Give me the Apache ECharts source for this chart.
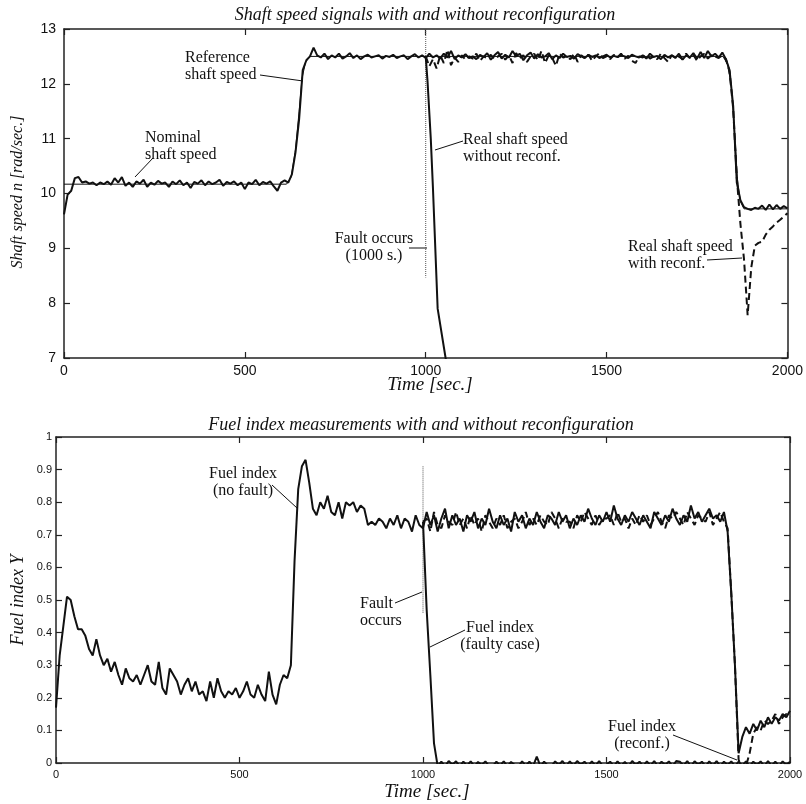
<!DOCTYPE html>
<html>
<head>
<meta charset="UTF-8">
<title>Shaft speed and fuel index</title>
<script type="text/javascript" src="https://cdn.jsdelivr.net/npm/echarts@6.0.0/dist/echarts.min.js"></script>
<style>body{margin:0;background:#fff}</style>
</head>
<body>
<div id="main" style="width:806px;height:804px;"></div>
<script type="text/javascript">
// time grid, 10 s sampling
var t = [];
for (var s = 0; s <= 2000; s += 10) t.push(s);
var tAfter = t.slice(100); // 1000 .. 2000

// ---- shaft speed (top panel) ----
var nomSpeed = [
  9.62, 9.98, 10.05, 10.28, 10.30, 10.20, 10.22, 10.18, 10.20, 10.15,
  10.20, 10.17, 10.22, 10.16, 10.28, 10.20, 10.30, 10.14, 10.20, 10.12,
  10.22, 10.18, 10.25, 10.12, 10.20, 10.16, 10.23, 10.18, 10.20, 10.12,
  10.22, 10.17, 10.24, 10.15, 10.20, 10.10, 10.21, 10.18, 10.24, 10.15,
  10.22, 10.17, 10.20, 10.25, 10.14, 10.21, 10.18, 10.22, 10.15, 10.20,
  10.08, 10.20, 10.17, 10.25, 10.15, 10.21, 10.18, 10.22, 10.13, 10.05,
  10.20, 10.24, 10.20, 10.35, 10.75, 11.35, 12.25, 12.43, 12.50, 12.66,
  12.52, 12.48, 12.55, 12.45, 12.52, 12.48, 12.55, 12.46, 12.50, 12.56,
  12.47, 12.52, 12.45, 12.50, 12.53, 12.48, 12.50, 12.52, 12.46, 12.51,
  12.49, 12.53, 12.47, 12.50, 12.52, 12.45, 12.50, 12.54, 12.48, 12.52,
  12.47, 12.55, 12.48, 12.52, 12.46, 12.55, 12.48, 12.60, 12.45, 12.52,
  12.48, 12.54, 12.47, 12.50, 12.45, 12.53, 12.49, 12.56, 12.44, 12.52,
  12.58, 12.46, 12.53, 12.48, 12.60, 12.50, 12.55, 12.43, 12.52, 12.57,
  12.46, 12.54, 12.48, 12.50, 12.56, 12.45, 12.52, 12.47, 12.55, 12.49,
  12.51, 12.46, 12.54, 12.50, 12.47, 12.53, 12.49, 12.52, 12.47, 12.50,
  12.53, 12.48, 12.51, 12.49, 12.52, 12.50, 12.47, 12.53, 12.50, 12.48,
  12.52, 12.46, 12.55, 12.49, 12.51, 12.45, 12.53, 12.48, 12.52, 12.47,
  12.55, 12.44, 12.52, 12.48, 12.56, 12.46, 12.58, 12.47, 12.60, 12.50,
  12.55, 12.48, 12.57, 12.45, 12.25, 11.60, 10.20, 9.88, 9.75, 9.72,
  9.70, 9.74, 9.72, 9.78, 9.70, 9.80, 9.71, 9.79, 9.72, 9.77,
  9.73
];
var recSpeed = [
  12.50, 12.32, 12.45, 12.28, 12.52, 12.38, 12.62, 12.34, 12.48, 12.40,
  12.52, 12.44, 12.50, 12.46, 12.55, 12.42, 12.50, 12.47, 12.53, 12.45,
  12.50, 12.55, 12.44, 12.52, 12.38, 12.56, 12.47, 12.52, 12.40, 12.50,
  12.55, 12.43, 12.60, 12.38, 12.52, 12.47, 12.33, 12.55, 12.48, 12.50,
  12.45, 12.55, 12.40, 12.52, 12.47, 12.53, 12.42, 12.50, 12.56, 12.47,
  12.50, 12.45, 12.53, 12.48, 12.55, 12.46, 12.51, 12.42, 12.38, 12.50,
  12.48, 12.53, 12.46, 12.50, 12.45, 12.55, 12.47, 12.40, 12.52, 12.48,
  12.50, 12.45, 12.55, 12.47, 12.53, 12.42, 12.50, 12.55, 12.46, 12.52,
  12.50, 12.47, 12.52, 12.45, 12.22, 11.55, 10.30, 9.45, 8.80, 7.78,
  8.65, 9.05, 9.10, 9.12, 9.25, 9.34, 9.40, 9.47, 9.52, 9.58,
  9.64
];
var refT = [0, 615, 628, 640, 650, 658, 668, 680, 1822, 1835, 1845, 1855, 1862, 1870, 1880, 2000];
var refSpeed = [10.17, 10.17, 10.30, 10.80, 11.50, 12.10, 12.40, 12.50, 12.50, 12.35, 11.95, 11.00, 10.25, 9.85, 9.72, 9.72];
var faultT = [1000, 1005, 1014, 1020, 1033, 1055, 1062];
var faultSpeed = [12.50, 12.05, 11.00, 10.10, 7.90, 7.00, 6.80];
var markSpeed = [13, 8.47];

// ---- fuel index (bottom panel) ----
var fuelNom = [
  0.17, 0.33, 0.42, 0.51, 0.50, 0.45, 0.41, 0.41, 0.39, 0.35,
  0.33, 0.38, 0.33, 0.30, 0.32, 0.28, 0.31, 0.27, 0.24, 0.29,
  0.26, 0.25, 0.27, 0.24, 0.27, 0.30, 0.25, 0.24, 0.31, 0.23,
  0.21, 0.29, 0.27, 0.25, 0.21, 0.24, 0.26, 0.22, 0.25, 0.21,
  0.22, 0.19, 0.25, 0.20, 0.26, 0.22, 0.20, 0.22, 0.21, 0.23,
  0.20, 0.22, 0.25, 0.21, 0.20, 0.24, 0.21, 0.19, 0.28, 0.21,
  0.18, 0.24, 0.27, 0.26, 0.30, 0.62, 0.84, 0.91, 0.93, 0.86,
  0.78, 0.76, 0.80, 0.78, 0.82, 0.77, 0.76, 0.80, 0.75, 0.80,
  0.79, 0.80, 0.77, 0.79, 0.78, 0.73, 0.74, 0.73, 0.75, 0.74,
  0.72, 0.75, 0.73, 0.76, 0.72, 0.75, 0.74, 0.71, 0.76, 0.73,
  0.72, 0.77, 0.73, 0.76, 0.71, 0.75, 0.78, 0.72, 0.76, 0.73,
  0.75, 0.71, 0.76, 0.74, 0.77, 0.72, 0.75, 0.73, 0.78, 0.74,
  0.72, 0.76, 0.73, 0.75, 0.71, 0.77, 0.74, 0.76, 0.72, 0.75,
  0.73, 0.77, 0.74, 0.72, 0.76, 0.75, 0.73, 0.77, 0.74, 0.76,
  0.72, 0.75, 0.73, 0.76, 0.74, 0.78, 0.75, 0.73, 0.76, 0.74,
  0.77, 0.74, 0.79, 0.75, 0.73, 0.76, 0.74, 0.77, 0.75, 0.73,
  0.76, 0.74, 0.72, 0.77, 0.75, 0.73, 0.76, 0.74, 0.78, 0.75,
  0.73, 0.76, 0.74, 0.79, 0.75, 0.77, 0.74, 0.76, 0.78, 0.75,
  0.76, 0.74, 0.77, 0.71, 0.52, 0.30, 0.03, 0.08, 0.11, 0.09,
  0.12, 0.10, 0.13, 0.11, 0.14, 0.12, 0.14, 0.13, 0.15, 0.14,
  0.16
];
var fuelRec = [
  0.74, 0.75, 0.71, 0.77, 0.73, 0.72, 0.76, 0.74, 0.73, 0.77,
  0.73, 0.75, 0.72, 0.76, 0.73, 0.75, 0.71, 0.76, 0.74, 0.72,
  0.75, 0.73, 0.76, 0.72, 0.74, 0.75, 0.72, 0.74, 0.77, 0.73,
  0.75, 0.73, 0.76, 0.74, 0.73, 0.77, 0.75, 0.72, 0.75, 0.74,
  0.74, 0.72, 0.76, 0.74, 0.77, 0.75, 0.73, 0.76, 0.73, 0.75,
  0.75, 0.76, 0.73, 0.77, 0.74, 0.75, 0.72, 0.75, 0.73, 0.76,
  0.74, 0.76, 0.73, 0.75, 0.77, 0.74, 0.72, 0.76, 0.75, 0.77,
  0.75, 0.73, 0.77, 0.75, 0.73, 0.76, 0.75, 0.74, 0.77, 0.73,
  0.75, 0.77, 0.74, 0.72, 0.52, 0.30, 0.01, -0.02, -0.01, 0.03,
  0.09, 0.11, 0.10, 0.13, 0.12, 0.13, 0.15, 0.12, 0.14, 0.15,
  0.14
];
var fuelFault = [
  0.74, 0.47, 0.27, 0.06, -0.01, 0.004, -0.01, 0.006, -0.005, 0.005,
  -0.01, 0.004, -0.008, 0.005, -0.01, 0.003, -0.006, 0.005, -0.01, -0.01,
  0.004, -0.008, 0.005, -0.01, 0.003, -0.006, -0.01, 0.005, -0.008, 0.004,
  -0.01, 0.02, -0.01, 0.004, -0.008, -0.01, 0.005, -0.006, 0.006, -0.01,
  0.005, -0.008, 0.006, -0.005, 0.004, -0.01, 0.005, -0.008, 0.006, -0.01,
  -0.005, 0.004, -0.01, 0.005, -0.008, 0.003, -0.01, 0.006, -0.006, 0.004,
  -0.01, 0.005, -0.008, 0.006, -0.01, 0.004, -0.006, 0.005, -0.01, 0.006,
  0.004, -0.008, 0.006, -0.01, 0.005, -0.005, 0.004, -0.01, 0.005, -0.008,
  0.006, -0.01, 0.004, -0.006, 0.005, -0.01, 0.004, -0.008, 0.005, -0.01,
  0.004, -0.006, 0.005, -0.01, 0.006, -0.008, 0.004, -0.01, 0.005, -0.006,
  0.004
];
var markFuel = [0.91, 0.46];

function pairs(xs, ys) {
  return xs.map(function (x, i) { return [x, ys[i]]; });
}

var serif = 'Liberation Serif';
var sans = 'Liberation Sans';
var ink = '#111';
var frame = { show: true, onZero: false, lineStyle: { color: '#222', width: 1.5 } };
var plain = function (v) { return String(v); };

function tick(show) {
  return { show: show, inside: true, length: 6, lineStyle: { color: '#222', width: 1.2 } };
}

function lineSeries(x, y, data, width, type, color) {
  return {
    type: 'line', xAxisIndex: x, yAxisIndex: y, data: data,
    showSymbol: false, symbol: 'none', animation: false, silent: true,
    lineStyle: { color: color || ink, width: width, type: type || 'solid' }
  };
}

var chart = echarts.init(document.getElementById('main'), null, { renderer: 'canvas' });

var titleStyle = { fontFamily: serif, fontStyle: 'italic', fontWeight: 'normal', fontSize: 18, color: ink };

var option = {
  animation: false,
  backgroundColor: '#fff',
  title: [
    { text: 'Shaft speed signals with and without reconfiguration', left: 420, top: 1, textAlign: 'center', textStyle: titleStyle },
    { text: 'Fuel index measurements with and without reconfiguration', left: 416, top: 411, textAlign: 'center', textStyle: titleStyle }
  ],
  grid: [
    { left: 64, right: 14, top: 29, height: 329 },
    { left: 56, right: 16, top: 437, height: 326 }
  ],
  xAxis: [
    { type: 'value', gridIndex: 0, min: 0, max: 2000, interval: 500, position: 'bottom',
      axisLine: frame, axisTick: tick(true), splitLine: { show: false },
      axisLabel: { fontFamily: sans, fontSize: 14, color: ink, margin: 6, formatter: plain } },
    { type: 'value', gridIndex: 0, min: 0, max: 2000, interval: 500, position: 'top',
      axisLine: frame, axisTick: tick(true), axisLabel: { show: false }, splitLine: { show: false } },
    { type: 'value', gridIndex: 1, min: 0, max: 2000, interval: 500, position: 'bottom',
      axisLine: frame, axisTick: tick(true), splitLine: { show: false },
      axisLabel: { fontFamily: sans, fontSize: 11, color: ink, margin: 6, formatter: plain } },
    { type: 'value', gridIndex: 1, min: 0, max: 2000, interval: 500, position: 'top',
      axisLine: frame, axisTick: tick(true), axisLabel: { show: false }, splitLine: { show: false } }
  ],
  yAxis: [
    { type: 'value', gridIndex: 0, min: 7, max: 13, interval: 1, position: 'left',
      axisLine: frame, axisTick: tick(true), splitLine: { show: false },
      axisLabel: { fontFamily: sans, fontSize: 14, color: ink, margin: 8 } },
    { type: 'value', gridIndex: 0, min: 7, max: 13, interval: 1, position: 'right',
      axisLine: frame, axisTick: tick(true), axisLabel: { show: false }, splitLine: { show: false } },
    { type: 'value', gridIndex: 1, min: 0, max: 1, interval: 0.1, position: 'left',
      axisLine: frame, axisTick: tick(true), splitLine: { show: false },
      axisLabel: { fontFamily: sans, fontSize: 11, color: ink, margin: 4 } },
    { type: 'value', gridIndex: 1, min: 0, max: 1, interval: 0.1, position: 'right',
      axisLine: frame, axisTick: tick(true), axisLabel: { show: false }, splitLine: { show: false } }
  ],
  series: [
    lineSeries(0, 0, pairs([1000, 1000], markSpeed), 1, 'dotted', '#555'),
    lineSeries(0, 0, pairs(refT, refSpeed), 1),
    lineSeries(0, 0, pairs(t, nomSpeed), 2),
    lineSeries(0, 0, pairs(faultT, faultSpeed), 2),
    lineSeries(0, 0, pairs(tAfter, recSpeed), 2, [7, 4]),
    lineSeries(2, 2, pairs([1000, 1000], markFuel), 1, 'dotted', '#555'),
    lineSeries(2, 2, pairs(t, fuelNom), 2),
    lineSeries(2, 2, pairs(tAfter, fuelFault), 2),
    lineSeries(2, 2, pairs(tAfter, fuelRec), 2, [7, 4])
  ]
};

// axis names (italic serif)
var axisNames = [
  { text: 'Time [sec.]', x: 430, y: 385, rot: 0, size: 19 },
  { text: 'Time [sec.]', x: 427, y: 792, rot: 0, size: 19 },
  { text: 'Shaft speed n [rad/sec.]', x: 18, y: 192, rot: Math.PI / 2, size: 16 },
  { text: 'Fuel index Y', x: 18, y: 600, rot: Math.PI / 2, size: 18 }
];

// annotations: label text and leader lines (pixel layout)
var notes = [
  { text: 'Reference\nshaft speed', x: 185, y: 66, align: 'left', from: [260, 75], to: [303, 81] },
  { text: 'Nominal\nshaft speed', x: 145, y: 146, align: 'left', from: [153, 158], to: [135, 177] },
  { text: 'Real shaft speed\nwithout reconf.', x: 463, y: 148, align: 'left', from: [463, 141], to: [435, 150] },
  { text: 'Fault occurs\n(1000 s.)', x: 374, y: 247, align: 'center', from: [409, 248], to: [427, 248] },
  { text: 'Real shaft speed\nwith reconf.', x: 628, y: 255, align: 'left', from: [707, 260], to: [742, 258] },
  { text: 'Fuel index\n(no fault)', x: 243, y: 482, align: 'center', from: [272, 485], to: [297, 508] },
  { text: 'Fault\noccurs', x: 360, y: 612, align: 'left', from: [395, 603], to: [422, 592] },
  { text: 'Fuel index\n(faulty case)', x: 500, y: 636, align: 'center', from: [465, 630], to: [430, 647] },
  { text: 'Fuel index\n(reconf.)', x: 642, y: 735, align: 'center', from: [673, 735], to: [737, 760] }
];
var graphics = [];
axisNames.forEach(function (a) {
  graphics.push({
    type: 'text', x: a.x, y: a.y, rotation: a.rot, silent: true,
    style: { text: a.text, fill: ink, font: 'italic ' + a.size + 'px "' + serif + '"', align: 'center', verticalAlign: 'middle' }
  });
});
notes.forEach(function (n) {
  graphics.push({
    type: 'text', x: n.x, y: n.y, silent: true,
    style: { text: n.text, fill: ink, font: '16px "' + serif + '"', align: n.align, verticalAlign: 'middle', lineHeight: 17 }
  });
  graphics.push({
    type: 'line', silent: true,
    shape: { x1: n.from[0], y1: n.from[1], x2: n.to[0], y2: n.to[1] },
    style: { stroke: ink, lineWidth: 1 }
  });
});
option.graphic = graphics;

chart.setOption(option);
</script>
</body>
</html>
